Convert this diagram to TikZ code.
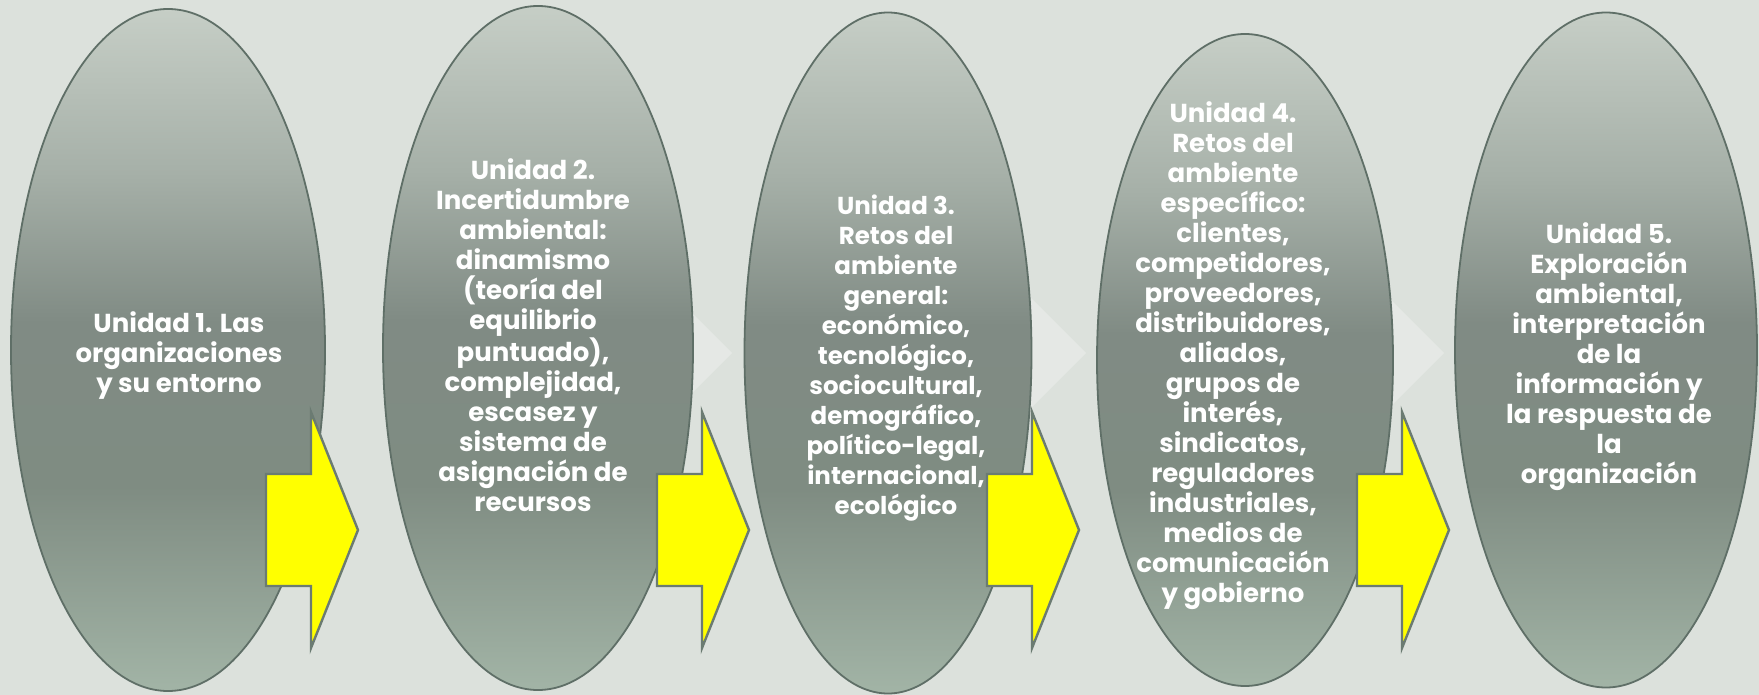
\documentclass[tikz,border=0pt]{standalone}
\usepackage{fontspec}
\setmainfont{Poppins}
\usetikzlibrary{shapes.geometric}
\definecolor{bg}{HTML}{DCE1DC}
\definecolor{chev}{HTML}{E5E8E5}
\definecolor{ovalline}{HTML}{5F6F67}
\definecolor{arrline}{HTML}{6B7B72}
\definecolor{arrfill}{HTML}{FFFF00}
\definecolor{ovtop}{HTML}{C6CEC6}
\definecolor{ovup}{HTML}{A6B0A8}
\definecolor{ovmid}{HTML}{808B84}
\definecolor{ovlow}{HTML}{7F8C82}
\definecolor{ovbot}{HTML}{A2B4A6}
\pgfdeclareverticalshading{ovalshade}{100bp}{color(0bp)=(ovbot); color(25bp)=(ovbot); color(40bp)=(ovlow); color(52bp)=(ovmid); color(63bp)=(ovup); color(75bp)=(ovtop); color(100bp)=(ovtop)}
\tikzset{
  oval/.style={ellipse, draw=ovalline, line width=1.8pt, shading=ovalshade, inner sep=0pt},
  lbl/.style={text=white, font=\bfseries\fontsize{26}{30}\selectfont, align=center, inner sep=0pt},
  lblnarrow/.style={lbl, font=\bfseries\fontsize{24.5}{30}\selectfont},
  arr/.style={draw=arrline, fill=arrfill, line width=2.4pt, line join=miter},
  chevron/.style={fill=chev, draw=none},
  yarrow/.pic={\draw[arr] (0,474) -- (45,474) -- (45,412) -- (92,530) -- (45,648) -- (45,586) -- (0,586) -- cycle;}
}
\begin{document}
\begin{tikzpicture}[x=1pt,y=-1pt]
\fill[bg] (0,0) rectangle (1759,695);
\useasboundingbox (0,0) rectangle (1759,695);
% background chevrons
\coordinate (c1) at (732,353);
\coordinate (c2) at (1086,353);
\coordinate (c3) at (1444,353);
\foreach \c in {c1,c2,c3}{
  \fill[chevron] (\c) -- ++(-130,-130) -- ++(0,260) -- cycle;
}
% ovals
\node[oval, minimum width=314pt, minimum height=682pt] (e1) at (168,350) {};
\node[oval, minimum width=310pt, minimum height=684pt] (e2) at (538,348) {};
\node[oval, minimum width=287pt, minimum height=681pt] (e3) at (888,353) {};
\node[oval, minimum width=296pt, minimum height=652pt] (e4) at (1245,360) {};
\node[oval, minimum width=302pt, minimum height=675pt] (e5) at (1606,350) {};
% texts
\node[lbl] (t1) at (179,356) {Unidad 1. Las\\organizaciones\\y su entorno};
\node[lbl] (t2) at (533,335) {Unidad 2.\\Incertidumbre\\ambiental:\\dinamismo\\(teoría del\\equilibrio\\puntuado),\\complejidad,\\escasez y\\sistema de\\asignación de\\recursos};
\node[lblnarrow] (t3) at (896,358) {Unidad 3.\\Retos del\\ambiente\\general:\\económico,\\tecnológico,\\sociocultural,\\demográfico,\\político-legal,\\internacional,\\ecológico};
\node[lbl] (t4) at (1233,356) {Unidad 4.\\Retos del\\ambiente\\específico:\\clientes,\\competidores,\\proveedores,\\distribuidores,\\aliados,\\grupos de\\interés,\\sindicatos,\\reguladores\\industriales,\\medios de\\comunicación\\y gobierno};
\node[lbl] (t5) at (1609,357) {Unidad 5.\\Exploración\\ambiental,\\interpretación\\de la\\información y\\la respuesta de\\la\\organización};
% yellow arrows
\pic at (266,0) {yarrow};
\pic at (657,0) {yarrow};
\pic at (987,0) {yarrow};
\pic at (1357,0) {yarrow};
\end{tikzpicture}
\end{document}
